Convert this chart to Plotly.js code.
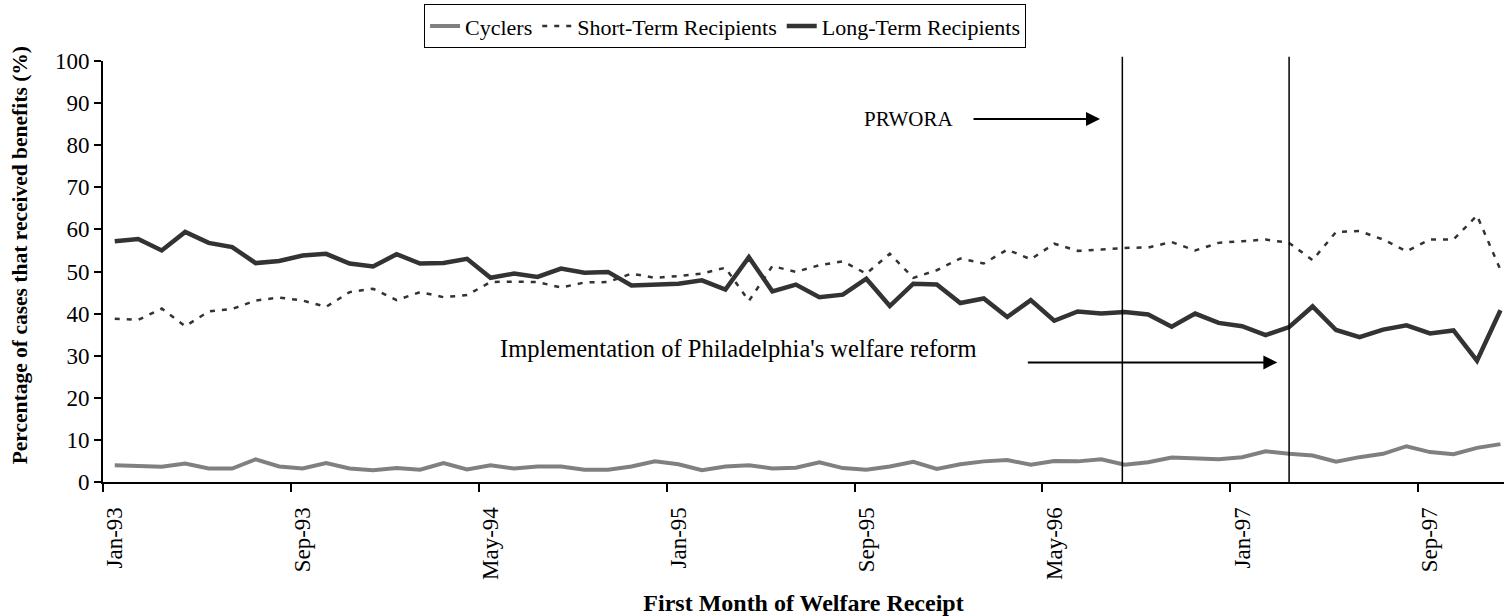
<!DOCTYPE html>
<html>
<head>
<meta charset="utf-8">
<script src="https://cdn.plot.ly/plotly-3.0.1.min.js"></script>
<style>html,body{margin:0;padding:0;background:#fff;overflow:hidden}#chart{width:1505px;height:616px}</style>
</head>
<body>
<div id="chart"></div>
<script>
// Months Jan-93 .. Dec-97 (60 monthly cohorts)
const monthNames = ["Jan","Feb","Mar","Apr","May","Jun","Jul","Aug","Sep","Oct","Nov","Dec"];
const years = ["93","94","95","96","97"];
const months = [];
years.forEach(y => monthNames.forEach(m => months.push(m + "-" + y)));

const cyclers = [4.0,3.7,3.6,4.4,3.2,3.2,5.4,3.7,3.2,4.5,3.2,2.8,3.3,2.9,4.5,3.0,4.0,3.2,3.7,3.7,
                 2.9,2.9,3.7,4.9,4.2,2.8,3.7,4.0,3.2,3.4,4.7,3.3,2.9,3.7,4.8,3.1,4.2,4.9,5.2,4.1,
                 5.0,4.9,5.4,4.1,4.7,5.8,5.6,5.4,5.9,7.3,6.7,6.3,4.8,5.9,6.7,8.5,7.1,6.6,8.1,9.0];
const shortTerm = [38.8,38.5,41.2,37.0,40.5,41.1,43.1,43.8,43.1,41.6,45.1,45.9,43.2,45.1,43.9,44.4,47.5,47.6,47.5,46.2,
                   47.4,47.5,49.5,48.5,48.9,49.5,50.9,43.0,51.3,49.9,51.5,52.4,49.5,54.2,48.5,50.3,53.1,51.9,55.2,52.9,
                   56.6,54.9,55.2,55.6,55.7,57.0,55.0,56.8,57.2,57.6,56.8,52.7,59.4,59.6,57.6,54.8,57.6,57.6,63.3,50.4];
const longTerm = [57.2,57.7,55.0,59.4,56.8,55.8,52.0,52.5,53.8,54.2,51.9,51.2,54.1,51.9,52.0,53.0,48.5,49.5,48.7,50.7,
                  49.7,49.9,46.7,47.0,47.1,47.9,45.7,53.4,45.3,46.9,43.9,44.5,48.3,41.8,47.1,46.9,42.5,43.6,39.2,43.2,
                  38.3,40.5,40.0,40.4,39.8,36.9,40.0,37.8,37.0,34.9,36.8,41.7,36.1,34.4,36.2,37.2,35.3,36.0,28.8,40.8];

const tickLabels = ["Jan-93","Sep-93","May-94","Jan-95","Sep-95","May-96","Jan-97","Sep-97"];
const seriesNames = ["Cyclers","Short-Term Recipients","Long-Term Recipients"];
const prworaMonth = "Aug-96";
const phillyMonth = "Mar-97";

const idx = months.map((_, i) => i);
const tickIdx = tickLabels.map(t => months.indexOf(t));
const FONT = "Liberation Serif, Times New Roman, serif";

const traces = [
  {x: idx, y: cyclers, name: seriesNames[0], type: "scatter", mode: "lines",
   line: {color: "#808080", width: 4}},
  {x: idx, y: shortTerm, name: seriesNames[1], type: "scatter", mode: "lines",
   line: {color: "#333333", width: 2.5, dash: "5px,7px"}},
  {x: idx, y: longTerm, name: seriesNames[2], type: "scatter", mode: "lines",
   line: {color: "#333333", width: 4.5}}
];

const prX = months.indexOf(prworaMonth) - 0.1;
const phX = months.indexOf(phillyMonth);

const layout = {
  width: 1505, height: 616,
  margin: {l: 103, r: 1, t: 61, b: 134},
  paper_bgcolor: "#fff", plot_bgcolor: "#fff",
  font: {family: FONT, color: "#000", size: 22},
  showlegend: true,
  legend: {orientation: "h", x: 0.444, xanchor: "center", y: 1.135, yanchor: "top",
           bordercolor: "#000", borderwidth: 1, bgcolor: "#fff",
           font: {family: FONT, size: 22, color: "#000"}, itemwidth: 30, tracegroupgap: 0},
  xaxis: {
    range: [-0.5, 59.15], tickmode: "array", tickvals: tickIdx, ticktext: tickLabels,
    tickangle: -90, ticks: "", ticklabelstandoff: 14,
    tickfont: {family: FONT, size: 23, color: "#000"},
    showline: true, linecolor: "#000", linewidth: 2, showgrid: false, zeroline: false,
    minor: {tickmode: "linear", tick0: -0.5, dtick: 8, ticks: "outside", ticklen: 8, tickwidth: 2, tickcolor: "#000", showgrid: false},
    title: {text: "<b>First Month of Welfare Receipt</b>", font: {family: FONT, size: 24, color: "#000"}, standoff: 26}
  },
  yaxis: {
    range: [0, 100], tickmode: "linear", tick0: 0, dtick: 10,
    ticks: "outside", ticklen: 7, tickwidth: 2, tickcolor: "#000",
    tickfont: {family: FONT, size: 23, color: "#000"},
    showline: true, linecolor: "#000", linewidth: 2, showgrid: false, zeroline: false
  },
  shapes: [
    {type: "line", xref: "x", yref: "paper", x0: prX, x1: prX, y0: 0, y1: 1.01, line: {color: "#000", width: 1.5}},
    {type: "line", xref: "x", yref: "paper", x0: phX, x1: phX, y0: 0, y1: 1.01, line: {color: "#000", width: 1.5}}
  ],
  annotations: [
    {text: "<b>Percentage of cases that received benefits (%)</b>", xref: "paper", yref: "paper",
     x: -0.0592, y: 0.5385, textangle: -90, showarrow: false, xanchor: "center", yanchor: "middle",
     font: {family: FONT, size: 21.5, color: "#000"}},
    {text: "PRWORA", xref: "x", yref: "y", x: 33.8, y: 86.2, showarrow: false,
     font: {family: FONT, size: 21, color: "#000"}, xanchor: "center", yanchor: "middle"},
    {text: "", xref: "x", yref: "y", x: 41.95, y: 86.2, ax: -128, ay: 0, axref: "pixel", ayref: "pixel",
     showarrow: true, arrowhead: 2, arrowsize: 1.4, arrowwidth: 2, arrowcolor: "#000"},
    {text: "Implementation of Philadelphia's welfare reform", xref: "x", yref: "y", x: 16.3, y: 31.8, showarrow: false,
     font: {family: FONT, size: 24.5, color: "#000"}, xanchor: "left", yanchor: "middle"},
    {text: "", xref: "x", yref: "y", x: 49.5, y: 28.4, ax: -251, ay: 0, axref: "pixel", ayref: "pixel",
     showarrow: true, arrowhead: 2, arrowsize: 1.4, arrowwidth: 2, arrowcolor: "#000"}
  ]
};

Plotly.newPlot("chart", traces, layout, {displayModeBar: false, staticPlot: true});
</script>
</body>
</html>
